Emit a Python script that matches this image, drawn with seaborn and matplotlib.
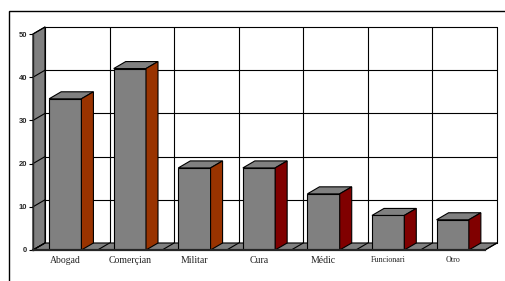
import matplotlib
matplotlib.use('Agg')
import matplotlib.pyplot as plt
import seaborn as sns
from matplotlib.patches import Polygon, Rectangle

categorias = ['Abogad', 'Comerçian', 'Militar', 'Cura', 'Médic', 'Funcionari', 'Otro']
valores = [35, 42, 19, 19, 13, 8, 7]
colores_lado = ['#993300', '#993300', '#993300', '#800000', '#800000', '#800000', '#800000']
y_ticks = [0, 10, 20, 30, 40, 50]

sns.set_style('white')
fig = plt.figure(figsize=(5.05, 2.81), dpi=100)
ax = fig.add_axes([33 / 505, 1 - 250 / 281, 452 / 505, 216 / 281])

sns.barplot(x=categorias, y=valores, color='#808080', saturation=1, width=0.5,
            edgecolor='black', linewidth=0.8, ax=ax, zorder=4)
ax.set_xlim(-0.5, 6.5)
ax.set_ylim(0, 50)

# desplazamiento 3D (profundidad) en unidades de datos
inv = ax.transData.inverted()
p0 = inv.transform((0, 0))
p1 = inv.transform((12, 7))
dx, dy = p1[0] - p0[0], p1[1] - p0[1]
n = len(categorias)
x0, x1 = -0.5, n - 0.5

# pared del fondo: rejilla
for v in y_ticks:
    ax.plot([x0 + dx, x1 + dx], [v + dy, v + dy], color='black', lw=0.8, zorder=1, clip_on=False)
    ax.plot([x0, x0 + dx], [v, v + dy], color='black', lw=0.8, zorder=3, clip_on=False)
for k in range(n + 1):
    ax.plot([x0 + k + dx] * 2, [dy, 50 + dy], color='black', lw=0.8, zorder=1, clip_on=False)

# pared izquierda y suelo
ax.add_patch(Polygon([(x0, 0), (x0 + dx, dy), (x0 + dx, 50 + dy), (x0, 50)],
                     facecolor='#808080', edgecolor='black', lw=0.8, zorder=2, clip_on=False))
ax.add_patch(Polygon([(x0, 0), (x1, 0), (x1 + dx, dy), (x0 + dx, dy)],
                     facecolor='#808080', edgecolor='black', lw=0.8, zorder=2, clip_on=False))
for k in range(n + 1):
    ax.plot([x0 + k, x0 + k + dx], [0, dy], color='black', lw=0.8, zorder=3, clip_on=False)

# caras superior y lateral de las barras
for bar, c in zip(ax.patches[:n], colores_lado):
    bx, bw, h = bar.get_x(), bar.get_width(), bar.get_height()
    ax.add_patch(Polygon([(bx, h), (bx + bw, h), (bx + bw + dx, h + dy), (bx + dx, h + dy)],
                         facecolor='#808080', edgecolor='black', lw=0.8, zorder=4, clip_on=False))
    ax.add_patch(Polygon([(bx + bw, 0), (bx + bw + dx, dy), (bx + bw + dx, h + dy), (bx + bw, h)],
                         facecolor=c, edgecolor='black', lw=0.8, zorder=4, clip_on=False))

for s in ['top', 'right']:
    ax.spines[s].set_visible(False)
ax.spines['left'].set_linewidth(1.0)
ax.spines['bottom'].set_linewidth(1.6)
ax.spines['left'].set_zorder(5)
ax.spines['bottom'].set_zorder(5)

ax.set_yticks(y_ticks)
ax.set_yticklabels([str(v) for v in y_ticks], fontsize=5.5, fontweight='bold', family='Liberation Sans')
ax.tick_params(axis='y', length=3, width=0.8, pad=1, left=True, direction='out', color='black')
ax.tick_params(axis='x', length=0, pad=4)
ax.set_xticks(range(n))
ax.set_xticklabels(categorias, family='Liberation Serif', color='#222222')
for i, t in enumerate(ax.get_xticklabels()):
    t.set_fontsize(7 if i < 5 else 5.8)
ax.set_xlabel('')
ax.set_ylabel('')
ax.set_facecolor('none')

# borde del área del gráfico
fig.patches.append(Rectangle((9 / 505, -0.1), 1.2, 0.1 + (281 - 11) / 281, transform=fig.transFigure,
                             fill=False, edgecolor='black', lw=1.0, zorder=0))

fig.savefig('out.png', dpi=100)
